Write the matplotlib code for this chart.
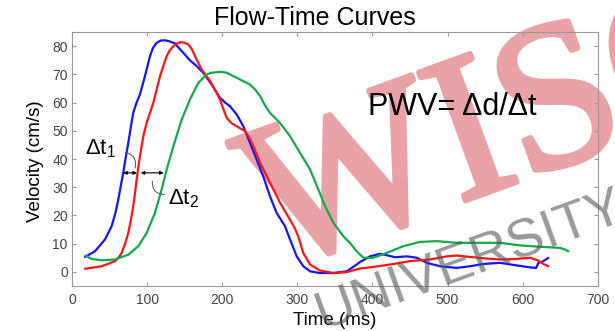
import matplotlib
matplotlib.use("Agg")
import matplotlib.pyplot as plt
import matplotlib.patheffects as pe

plt.rcParams['font.family'] = ['Liberation Sans', 'DejaVu Sans']
plt.rcParams['mathtext.fontset'] = 'custom'
plt.rcParams['mathtext.rm'] = 'Liberation Sans'
plt.rcParams['mathtext.it'] = 'Liberation Sans'

# ---- data (time in ms, velocity in cm/s) ----
blue_t = [17.3, 30.6, 44, 52.8, 58, 61.7, 65, 68.3, 71.5, 75, 78.5, 81.6, 86, 90.5, 97.2,
          103.9, 108, 112.8, 118, 123.8, 130, 137, 143.5, 150.5, 157, 163.8, 174.8,
          186, 197, 204, 210.4, 219.3, 228.2, 237, 246, 254.6, 263.6, 272.5, 283.6,
          290.3, 299.2, 308, 317, 330, 348, 365.7, 379, 383.5, 396.8, 410, 419, 430,
          446, 459, 472.5, 490, 512, 530, 547.6, 570, 592, 609.8, 617.8, 621, 627.6,
          634.2]
blue_v = [5.3, 7.3, 11.5, 16.2, 21, 25.6, 30.5, 35.1, 40.5, 45.7, 51.5, 56.4, 60, 62.9,
          69.4, 76.5, 79.5, 81.2, 82, 82.1, 81.7, 81, 79, 77, 75, 73.5, 70.6,
          66.4, 61.7, 60, 58.7, 55.8, 51.6, 45.7, 39.8, 33.9, 26.8, 20.9, 16.2,
          11.5, 5.5, 2, 0.2, -0.4, -0.4, 0.2, 2.6, 3.5, 5.5, 6.4, 5.9, 5.2,
          5.5, 5, 3.2, 2, 1.4, 2, 2.8, 3.2, 2.3, 1.6, 1.4, 3.2, 3.8,
          5]

red_t = [17.3, 39.5, 57.3, 62, 66.2, 70.5, 75, 78.5, 81.6, 84, 86.1, 88.3, 90.5, 95, 99.4,
         108.3, 117.2, 126.1, 130.5, 135, 139.5, 143.8, 149, 155, 159.5, 163.8, 172.7,
         182.5, 192.6, 197, 201.5, 206, 212, 219.3, 230.4, 236, 241.5, 250.4, 263.6,
         277, 290.3, 296, 301.3, 308, 317, 330, 348, 365.7, 383.5, 396.8, 423.4, 450,
         476.7, 498.9, 512, 530, 552, 570, 592, 609.8, 621, 627.6, 634.2]
red_v = [1.1, 2, 3.8, 5, 6.7, 9.8, 13.8, 18.5, 23.3, 28, 32.7, 37, 41, 48.1, 52.8,
         59.9, 69.4, 76.5, 78.7, 80, 80.9, 81.4, 81.3, 80.6, 79, 76.5, 71.7,
         68.2, 63.5, 61.1, 57.8, 54.6, 52.8, 51.6, 49.9, 47.6, 44.5, 38.7, 31.6,
         24.5, 18.5, 15.8, 12.6, 6.7, 2.6, 0.5, -0.4, -0.1, 1.2, 1.6, 2.6, 3.8,
         4.4, 5.5, 5.8, 5.3, 4.7, 4.4, 4.6, 5, 4, 2.8, 2]

green_t = [18, 26.2, 39.5, 57.3, 75, 88.3, 99.4, 110.5, 119.4, 126.1, 135, 146.1, 157.1,
           168.2, 179.4, 186, 192.6, 199, 206, 219.3, 237, 244, 250.4, 257, 263.6,
           277, 290.3, 303.6, 317, 328, 337, 348, 361.3, 370, 379, 388, 401, 419,
           441, 463, 485.6, 512, 539, 570, 596.5, 623, 649.8, 656.5, 660.9]
green_v = [5.8, 4.6, 4.1, 4.4, 6.1, 9.1, 13.8, 20.9, 29.2, 36.3, 44.5, 54, 61.1,
           67, 70, 70.6, 70.8, 70.9, 70.6, 68.8, 66.4, 64.6, 62.3, 59, 56.4,
           52.8, 48.1, 42.2, 36.3, 29.2, 23.3, 17.4, 12.6, 10.3, 7.3, 5, 5, 6.7,
           9.1, 10.6, 10.9, 10.3, 10.3, 10.3, 9.4, 8.9, 8.5, 7.9, 7.3]

x_ticks = [0, 100, 200, 300, 400, 500, 600, 700]
y_ticks = [0, 10, 20, 30, 40, 50, 60, 70, 80]

# ---- figure ----
fig = plt.figure(figsize=(6.15, 3.31), dpi=100)
ax = fig.add_axes([0.117, 0.136, 0.855, 0.767])
ax.set_facecolor('none')

ax.plot(blue_t, blue_v, color='#1414ff', lw=1.6, solid_capstyle='round',
        solid_joinstyle='round')
ax.plot(red_t, red_v, color='#ff1414', lw=1.6, solid_capstyle='round',
        solid_joinstyle='round')
ax.plot(green_t, green_v, color='#16a84a', lw=1.6, solid_capstyle='round',
        solid_joinstyle='round')

ax.set_xlim(0, 700)
ax.set_ylim(-5, 85)
ax.set_xticks(x_ticks)
ax.set_yticks(y_ticks)
ax.tick_params(direction='in', top=True, right=True, length=3, width=0.8,
               color='#999999', labelsize=10, labelcolor='#444444')
ax.tick_params(axis='x', pad=5)
ax.tick_params(axis='y', pad=3)
for s in ax.spines.values():
    s.set_color('#999999')
    s.set_linewidth(0.8)

# annotations
ax.annotate('', xy=(68.3, 35.1), xytext=(86.5, 35.1),
            arrowprops=dict(arrowstyle='<|-|>', color='black', lw=0.8,
                            mutation_scale=5, shrinkA=0, shrinkB=0))
ax.annotate('', xy=(91.5, 35.1), xytext=(122, 35.1),
            arrowprops=dict(arrowstyle='<|-|>', color='black', lw=0.8,
                            mutation_scale=5, shrinkA=0, shrinkB=0))
ax.annotate('', xy=(84, 36.8), xytext=(71, 42.3),
            arrowprops=dict(arrowstyle='-', color='#555555', lw=0.7,
                            connectionstyle='arc3,rad=-0.5', shrinkA=0, shrinkB=0))
ax.annotate('', xy=(123, 27.4), xytext=(107, 32.2),
            arrowprops=dict(arrowstyle='-', color='#555555', lw=0.7,
                            connectionstyle='arc3,rad=0.5', shrinkA=0, shrinkB=0))
ax.text(17.3, 41.6, r'$\mathregular{\Delta t_1}$', fontsize=16, ha='left', va='baseline')
ax.text(128.5, 23.9, r'$\mathregular{\Delta t_2}$', fontsize=16, ha='left', va='baseline')
ax.text(506, 58.6, 'PWV= Δd/Δt', fontsize=22, ha='center', va='center')

fig.text(0.512, 0.945, 'Flow-Time Curves', fontsize=18, ha='center', va='center')
fig.text(0.545, 0.033, 'Time (ms)', fontsize=13.5, ha='center', va='center')
fig.text(0.057, 0.513, 'Velocity (cm/s)', fontsize=13.5, ha='center', va='center',
         rotation=90)

# watermark (red word under the plot content, grey word on top)
wm_red = '#e9a3a7'
fig.text(0.445, 0.183, 'WISC', fontsize=150, family='Liberation Serif',
         color=wm_red, rotation=20, rotation_mode='anchor', ha='left',
         va='baseline', zorder=-1,
         path_effects=[pe.Stroke(linewidth=4, foreground=wm_red), pe.Normal()])
fig.text(0.525, 0.003, 'UNIVERSITY', fontsize=39, family='Liberation Sans',
         color='#555555', alpha=0.6, rotation=20, rotation_mode='anchor',
         ha='left', va='baseline', zorder=10)

fig.savefig('out.png', dpi=100)
